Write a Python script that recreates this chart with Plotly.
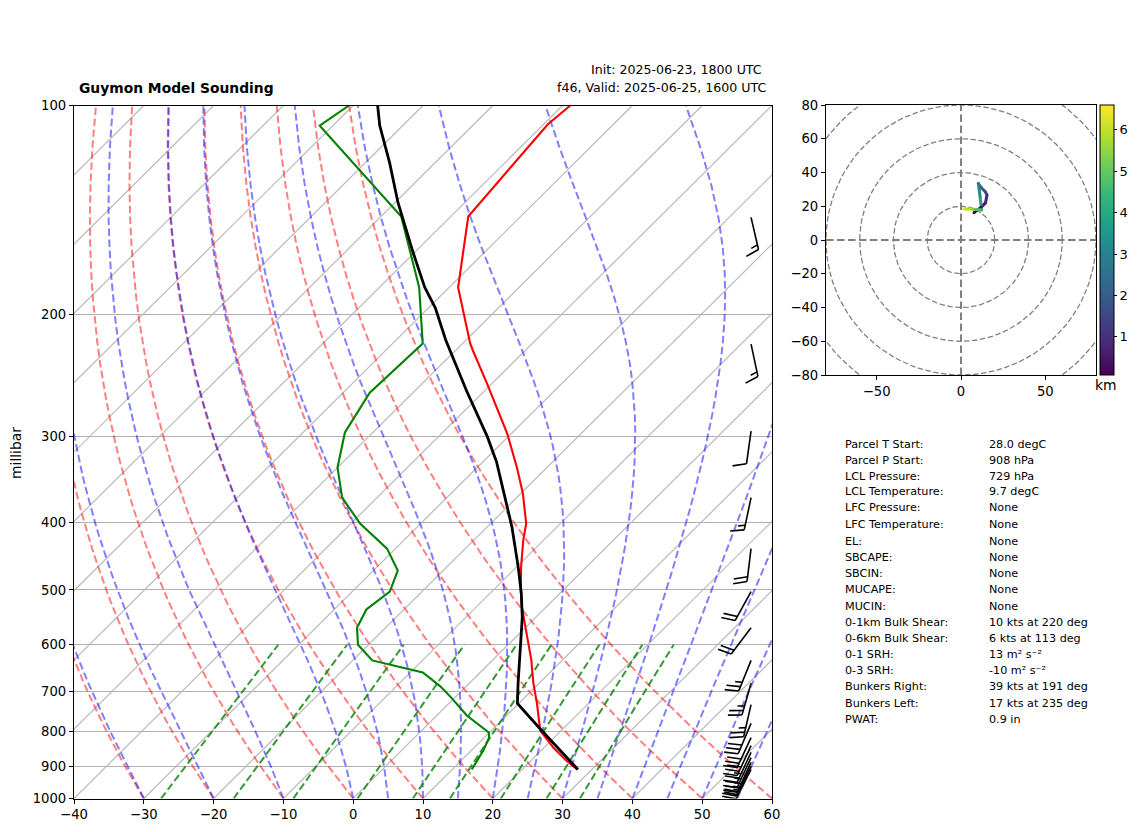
import numpy as np
import plotly.graph_objects as go
from plotly.colors import sample_colorscale

# the page body keeps an 8px margin around the plot div
OFF_X = 8
OFF_Y = 8
FIG_W = 1142 - OFF_X
FIG_H = 832 - OFF_Y

# temperature trace
temp_p = [100, 106.5, 144.6, 183.1, 220.5, 225.7, 251.9, 297.4, 333, 363, 401, 424, 464, 501, 530,
          586, 632, 654, 682, 729, 764, 798, 844, 881, 908]
temp_t = [-68.9, -69.4, -67.5, -58.7, -48.9, -47.5, -40.7, -30.6, -24.3, -19.7, -14.9, -12.9, -9.3,
          -6.0, -3.4, 1.7, 5.6, 7.2, 9.2, 12.6, 14.9, 17.0, 21.3, 25.0, 27.9]

# dewpoint trace
dew_p = [100, 106.9, 144.6, 183, 220.5, 259.6, 296.4, 333, 368, 401, 436, 469, 503, 533.5, 567,
         600, 632, 658, 689, 717, 759, 803, 817, 852, 908]
dew_t = [-100.6, -101.9, -77.1, -64.3, -55.7, -56.2, -54.0, -50.0, -45.0, -38.7, -31.2, -26.5,
         -24.6, -25.4, -24.1, -21.5, -17.2, -8.2, -3.7, -0.3, 4.3, 9.9, 10.7, 11.7, 12.8]

# parcel path
parcel_p = [100, 106.9, 121, 138, 163, 183, 196, 218, 258, 301, 327, 359, 406, 464, 506, 548, 626,
            682, 729, 793, 908]
parcel_t = [-96.5, -93.3, -86.5, -79.6, -70.2, -63.5, -59.0, -52.9, -42.6, -32.9, -28.0, -23.0, -16.4,
            -9.7, -5.5, -1.9, 3.5, 7.0, 9.8, 16.7, 28.0]

# wind barbs
barb_p = [145, 221, 295, 368, 436, 503, 567, 632, 682, 732, 779, 817, 839, 858, 873, 887, 899, 908]
barb_kts = [15, 15, 10, 15, 20, 20, 20, 25, 25, 25, 30, 30, 30, 25, 25, 25, 25, 25]
barb_dir = [167, 168, 188, 192, 187, 209, 217, 202, 196, 193, 203, 205, 205, 205, 205, 205, 207, 207]

# hodograph
hodo_u = [7.7, 12.0, 14.5, 15.4, 14.5, 12.0, 10.3, 11.3, 12.2, 7.3, 1.4]
hodo_v = [16.2, 19.5, 22.0, 26.7, 28.5, 31.0, 33.6, 25.7, 17.8, 18.2, 18.4]
hodo_km = [0.08, 0.3, 0.6, 1.0, 1.6, 2.1, 2.6, 3.4, 4.3, 5.2, 6.6]
hodo_rings = [20, 40, 60, 80, 100]

# background line sets
isotherms = list(range(-150, 70, 10))
dry_t0 = list(range(-30, 70, 10))
moist_t0 = [-30, -20, -10, 0, 5, 10, 15, 20, 25, 30, 35, 40, 45, 50, 55, 60]
mix_ratios = [0.0004, 0.001, 0.002, 0.004, 0.007, 0.01, 0.016, 0.024, 0.032]

p_ticks = [100, 200, 300, 400, 500, 600, 700, 800, 900, 1000]
t_ticks = list(range(-40, 70, 10))

stat_labels = ["Parcel T Start:", "Parcel P Start:", "LCL Pressure:", "LCL Temperature:", "LFC Pressure:",
               "LFC Temperature:", "EL:", "SBCAPE:", "SBCIN:", "MUCAPE:", "MUCIN:", "0-1km Bulk Shear:",
               "0-6km Bulk Shear:", "0-1 SRH:", "0-3 SRH:", "Bunkers Right:", "Bunkers Left:", "PWAT:"]
stat_values = ["28.0 degC", "908 hPa", "729 hPa", "9.7 degC", "None", "None", "None", "None", "None", "None",
               "None", "10 kts at 220 deg", "6 kts at 113 deg", "13 m² s⁻²", "-10 m² s⁻²",
               "39 kts at 191 deg", "17 kts at 235 deg", "0.9 in"]
stat_rows = [444, 460, 476, 492, 508, 524, 541, 557, 573, 589, 606, 622, 638, 654, 670, 686, 703, 719]

FONT = "DejaVu Sans"
PX_PER_DEG = 6.98
PX_PER_DECADE = 693.0


def skew(t, p):
    # isotherms lean 100 deg per decade of pressure
    return np.asarray(t, dtype=float) + 100 * np.log10(1000 / np.asarray(p, dtype=float))


def sat_mix(t_k, p):
    e = 6.112 * np.exp(17.67 * (t_k - 273.15) / (t_k - 29.65))
    return 0.622 * e / (p - e)


def moist_slope(t_k, p):
    rs = sat_mix(t_k, p)
    top = 287.05 * t_k + 2.501e6 * rs
    bot = 1005.0 + 2.501e6 ** 2 * rs * 0.622 / (287.05 * t_k ** 2)
    return top / bot / p


def moist_curve(t0, levels):
    # RK4 up from 1000 hPa
    out = [t0 + 273.15]
    for p0, p1 in zip(levels[:-1], levels[1:]):
        h = p1 - p0
        t = out[-1]
        k1 = moist_slope(t, p0)
        k2 = moist_slope(t + h * k1 / 2, p0 + h / 2)
        k3 = moist_slope(t + h * k2 / 2, p0 + h / 2)
        k4 = moist_slope(t + h * k3, p1)
        out.append(t + h * (k1 + 2 * k2 + 2 * k3 + k4) / 6)
    return np.array(out) - 273.15


def mix_dewpoint(w, p):
    e = p * w / (0.622 + w)
    a = np.log(e / 6.112)
    return 243.5 * a / (17.67 - a)


def barb_path(p, kts, direction):
    # barb geometry is in screen pixels, converted back to the axes units
    length = 33.0
    height = 13.5
    lean = 4.0
    gap = 4.7
    d = (np.sin(np.radians(direction)), -np.cos(np.radians(direction)))
    perp = (-d[1], d[0])
    segs = [((0, 0), (d[0] * length, d[1] * length))]
    pos = length
    left = kts
    while left >= 10:
        sx, sy = d[0] * pos, d[1] * pos
        segs.append(((sx, sy), (sx + perp[0] * height + d[0] * lean, sy + perp[1] * height + d[1] * lean)))
        pos -= gap
        left -= 10
    if left >= 5:
        sx, sy = d[0] * pos, d[1] * pos
        segs.append(((sx, sy), (sx + perp[0] * height / 2 + d[0] * lean / 2, sy + perp[1] * height / 2 + d[1] * lean / 2)))
    xs, ys = [], []
    for a, b in segs:
        for dx, dy in (a, b):
            xs.append(57 + dx / PX_PER_DEG)
            ys.append(p * 10 ** (dy / PX_PER_DECADE))
        xs.append(None)
        ys.append(None)
    return xs, ys


def dom_x(a, b):
    return [(a - OFF_X) / FIG_W, (b - OFF_X) / FIG_W]


def dom_y(a, b):
    return [1 - (b - OFF_Y) / FIG_H, 1 - (a - OFF_Y) / FIG_H]


def px_x(v):
    return (v - OFF_X) / FIG_W


def px_y(v):
    return 1 - (v - OFF_Y) / FIG_H


fig = go.Figure()
levels = np.linspace(1000, 100, 61)

xs, ys = [], []
for t in isotherms:
    xs += [float(skew(t, 1000)), float(skew(t, 100)), None]
    ys += [1000, 100, None]
fig.add_trace(go.Scatter(x=xs, y=ys, mode="lines", line=dict(color="rgb(186,186,186)", width=1.2), hoverinfo="skip"))

for t0 in dry_t0:
    t = (t0 + 273.15) * (levels / 1000) ** 0.2857 - 273.15
    fig.add_trace(go.Scatter(x=skew(t, levels), y=levels, mode="lines", hoverinfo="skip",
                             line=dict(color="rgba(255,0,0,0.5)", width=2, dash="7.5px,3.5px")))

for t0 in moist_t0:
    t = moist_curve(t0, levels)
    fig.add_trace(go.Scatter(x=skew(t, levels), y=levels, mode="lines", hoverinfo="skip",
                             line=dict(color="rgba(0,0,255,0.5)", width=2, dash="7.5px,3.5px")))

mix_levels = np.linspace(1000, 600, 11)
for w in mix_ratios:
    t = mix_dewpoint(w, mix_levels)
    fig.add_trace(go.Scatter(x=skew(t, mix_levels), y=mix_levels, mode="lines", hoverinfo="skip",
                             line=dict(color="rgba(0,128,0,0.8)", width=2, dash="7.5px,3.5px")))

fig.add_trace(go.Scatter(x=skew(temp_t, temp_p), y=temp_p, mode="lines", line=dict(color="red", width=2.1)))
fig.add_trace(go.Scatter(x=skew(dew_t, dew_p), y=dew_p, mode="lines", line=dict(color="green", width=2.1)))
fig.add_trace(go.Scatter(x=skew(parcel_t, parcel_p), y=parcel_p, mode="lines", line=dict(color="black", width=2.8)))

xs, ys = [], []
for p, k, d in zip(barb_p, barb_kts, barb_dir):
    bx, by = barb_path(p, k, d)
    xs += bx
    ys += by
fig.add_trace(go.Scatter(x=xs, y=ys, mode="lines", line=dict(color="black", width=1.6), hoverinfo="skip"))

# hodograph
for r in hodo_rings:
    a = np.radians(np.arange(0, 361, 3))
    fig.add_trace(go.Scatter(x=r * np.cos(a), y=r * np.sin(a), xaxis="x2", yaxis="y2", mode="lines", hoverinfo="skip",
                             line=dict(color="gray", width=1.3, dash="5.5px,2.5px")))
fig.add_trace(go.Scatter(x=[-80, 80, None, 0, 0], y=[0, 0, None, -80, 80], xaxis="x2", yaxis="y2", mode="lines",
                         hoverinfo="skip", line=dict(color="gray", width=2, dash="7.5px,3.5px")))
km_min, km_max = min(hodo_km), max(hodo_km)
for i in range(len(hodo_km) - 1):
    mid = ((hodo_km[i] + hodo_km[i + 1]) / 2 - km_min) / (km_max - km_min)
    fig.add_trace(go.Scatter(x=hodo_u[i:i + 2], y=hodo_v[i:i + 2], xaxis="x2", yaxis="y2", mode="lines",
                             line=dict(color=sample_colorscale("Viridis", [mid])[0], width=3)))
fig.add_trace(go.Scatter(x=hodo_u, y=hodo_v, xaxis="x2", yaxis="y2", mode="markers",
                         marker=dict(size=3, color=hodo_km, colorscale="Viridis", cmin=km_min, cmax=km_max,
                                     colorbar=dict(x=px_x(1100), xanchor="left", xpad=0, ypad=0, y=px_y(105), yanchor="top",
                                                   len=270, lenmode="pixels", thickness=14, thicknessmode="pixels",
                                                   outlinecolor="black", outlinewidth=1, tickvals=[1, 2, 3, 4, 5, 6],
                                                   ticks="outside", ticklen=3, tickcolor="black",
                                                   tickfont=dict(family=FONT, size=13, color="black")))))

annotations = [
    dict(text="<b>Guymon Model Sounding</b>", x=px_x(77), y=px_y(88), xanchor="left", font=dict(size=13.85)),
    dict(text="Init: 2025-06-23, 1800 UTC", x=px_x(764), y=px_y(70), xanchor="right", font=dict(size=12.6)),
    dict(text="f46, Valid: 2025-06-25, 1600 UTC", x=px_x(768), y=px_y(88), xanchor="right", font=dict(size=12.6)),
    dict(text="millibar", x=px_x(16), y=px_y(453), xanchor="center", textangle=-90, font=dict(size=13.9)),
    dict(text="km", x=px_x(1106), y=px_y(385), xanchor="center", font=dict(size=13.9)),
]
for label, value, row in zip(stat_labels, stat_values, stat_rows):
    annotations.append(dict(text=label, x=px_x(843), y=px_y(row), xanchor="left", font=dict(size=11.2)))
    annotations.append(dict(text=value, x=px_x(987), y=px_y(row), xanchor="left", font=dict(size=11.2)))
for a in annotations:
    a.update(xref="paper", yref="paper", yanchor="middle", showarrow=False)
    a["font"].update(family=FONT, color="black")

axis_style = dict(showline=True, linecolor="black", linewidth=1.2, mirror=True, ticks="outside", ticklen=4,
                  tickcolor="black", tickfont=dict(family=FONT, size=13.2, color="black"), zeroline=False)
fig.update_layout(
    width=FIG_W, height=FIG_H, autosize=False, showlegend=False, plot_bgcolor="white", paper_bgcolor="white",
    margin=dict(l=0, r=0, t=0, b=0, autoexpand=False), annotations=annotations,
    xaxis=dict(domain=dom_x(74, 772), range=[-40, 60], tickvals=t_ticks, showgrid=False, **axis_style),
    yaxis=dict(domain=dom_y(105.5, 798.5), type="log", range=[3, 2], tickvals=p_ticks, ticktext=[str(p) for p in p_ticks],
               showgrid=True, gridcolor="rgb(176,176,176)", gridwidth=1, **axis_style),
    xaxis2=dict(domain=dom_x(826, 1096), anchor="y2", range=[-80, 80], tickvals=[-50, 0, 50], showgrid=False, **axis_style),
    yaxis2=dict(domain=dom_y(105, 375), anchor="x2", range=[-80, 80], tickvals=list(range(-80, 100, 20)), showgrid=False,
                **axis_style),
)

fig.write_html("out.html")
